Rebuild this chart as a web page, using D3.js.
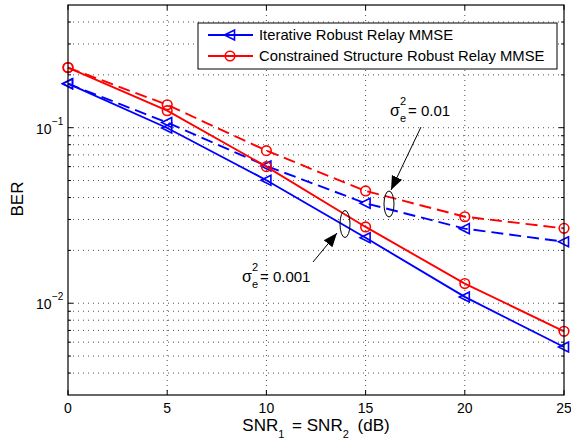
<!DOCTYPE html>
<html><head><meta charset="utf-8">
<script src="https://cdn.jsdelivr.net/npm/d3@7"></script>
<style>body{margin:0;background:#fff}svg{font-family:"Liberation Sans",Arial,sans-serif}</style>
</head><body>
<svg id="c" width="571" height="447"></svg>
<script>
const snr = [0, 5, 10, 15, 20, 25];
const iterLow = [0.178, 0.0996, 0.0502, 0.0236, 0.01086, 0.00563];   // sigma^2=0.001 solid blue
const iterHigh = [0.178, 0.107, 0.0605, 0.0371, 0.0266, 0.0224];     // sigma^2=0.01 dashed blue
const consLow = [0.22, 0.125, 0.060, 0.0272, 0.01294, 0.00692];      // solid red
const consHigh = [0.22, 0.135, 0.074, 0.0436, 0.0311, 0.0267];       // dashed red
const xTicks = [0, 5, 10, 15, 20, 25];
const yMajor = [0.01, 0.1];
const yMinor = [0.004,0.005,0.006,0.007,0.008,0.009,0.02,0.03,0.04,0.05,0.06,0.07,0.08,0.09,0.2,0.3,0.4];
const legendLabels = ["Iterative Robust Relay MMSE", "Constrained Structure Robust Relay MMSE"];

const svg = d3.select("#c");
const L = 68, R = 564, T = 5, B = 395;
const x = d3.scaleLinear().domain([0, 25]).range([L, R]);
const y = d3.scaleLog().domain([0.003, 0.5]).range([B, T]);

// grid
const g = svg.append("g");
g.selectAll(".gx").data(xTicks.slice(1, -1)).enter().append("line")
  .attr("x1", d => x(d)).attr("x2", d => x(d)).attr("y1", T).attr("y2", B)
  .attr("stroke", "#222").attr("stroke-width", 0.8).attr("stroke-dasharray", "1,4");
g.selectAll(".gy").data(yMajor.concat(yMinor)).enter().append("line")
  .attr("x1", L).attr("x2", R).attr("y1", d => y(d)).attr("y2", d => y(d))
  .attr("stroke", "#222").attr("stroke-width", 0.8).attr("stroke-dasharray", "1,4");

// ticks inside
const tk = svg.append("g").attr("stroke", "#000").attr("stroke-width", 1);
xTicks.forEach(v => {
  tk.append("line").attr("x1", x(v)).attr("x2", x(v)).attr("y1", B).attr("y2", B - 5);
  tk.append("line").attr("x1", x(v)).attr("x2", x(v)).attr("y1", T).attr("y2", T + 5);
});
yMajor.forEach(v => {
  tk.append("line").attr("x1", L).attr("x2", L + 5).attr("y1", y(v)).attr("y2", y(v));
  tk.append("line").attr("x1", R).attr("x2", R - 5).attr("y1", y(v)).attr("y2", y(v));
});
yMinor.forEach(v => {
  tk.append("line").attr("x1", L).attr("x2", L + 3).attr("y1", y(v)).attr("y2", y(v));
  tk.append("line").attr("x1", R).attr("x2", R - 3).attr("y1", y(v)).attr("y2", y(v));
});

// series
const line = d3.line().x((d, i) => x(snr[i])).y(d => y(d));
const series = [
  {v: iterHigh, c: "#0000ff", dash: "12,6", m: "tri"},
  {v: consHigh, c: "#ff0000", dash: "12,6", m: "circ"},
  {v: iterLow, c: "#0000ff", dash: null, m: "tri"},
  {v: consLow, c: "#ff0000", dash: null, m: "circ"}
];
const triPath = "M-5.5,0L4.5,-5L4.5,5Z";
function marker(sel, type, c) {
  if (type === "tri") sel.append("path").attr("d", triPath).attr("fill", "none").attr("stroke", c).attr("stroke-width", 1.6);
  else sel.append("circle").attr("r", 4.8).attr("fill", "none").attr("stroke", c).attr("stroke-width", 1.6);
}
series.forEach(s => {
  svg.append("path").attr("d", line(s.v)).attr("fill", "none").attr("stroke", s.c)
    .attr("stroke-width", 1.9).attr("stroke-dasharray", s.dash);
  s.v.forEach((d, i) => {
    const m = svg.append("g").attr("transform", `translate(${x(snr[i])},${y(d)})`);
    marker(m, s.m, s.c);
  });
});

// frame
svg.append("rect").attr("x", L).attr("y", T).attr("width", R - L).attr("height", B - T)
  .attr("fill", "none").attr("stroke", "#000").attr("stroke-width", 1.2);

// tick labels
xTicks.forEach(v => {
  svg.append("text").attr("x", x(v)).attr("y", 413).attr("text-anchor", "middle")
    .attr("font-size", 14).text(v);
});
[[0.1, "\u22121"], [0.01, "\u22122"]].forEach(([v, e]) => {
  svg.append("text").attr("x", 36).attr("y", y(v) + 6).attr("font-size", 14).text("10");
  svg.append("text").attr("x", 52).attr("y", y(v) - 3).attr("font-size", 10).text(e);
});

// axis labels
const xl = svg.append("text").attr("x", 316).attr("y", 431).attr("font-size", 17).attr("text-anchor", "middle");
xl.append("tspan").text("SNR");
xl.append("tspan").attr("font-size", 11).attr("dy", 7).text("1");
xl.append("tspan").attr("dy", -7).attr("dx", 3).text(" = SNR");
xl.append("tspan").attr("font-size", 11).attr("dy", 7).text("2");
xl.append("tspan").attr("dy", -7).attr("dx", 4).text(" (dB)");
svg.append("text").attr("transform", "translate(23,199) rotate(-90)").attr("text-anchor", "middle")
  .attr("font-size", 17).text("BER");

// legend
const lg = svg.append("g");
lg.append("rect").attr("x", 198).attr("y", 23).attr("width", 359).attr("height", 46)
  .attr("fill", "#fff").attr("stroke", "#000").attr("stroke-width", 1);
[["#0000ff", "tri"], ["#ff0000", "circ"]].forEach(([c, m], i) => {
  const yy = 35 + i * 21;
  lg.append("line").attr("x1", 208).attr("x2", 253).attr("y1", yy).attr("y2", yy).attr("stroke", c).attr("stroke-width", 1.9);
  marker(lg.append("g").attr("transform", `translate(230,${yy})`), m, c);
  lg.append("text").attr("x", 259).attr("y", yy + 5).attr("font-size", 14.8).text(legendLabels[i]);
});

// annotations
svg.append("defs").append("marker").attr("id", "ah").attr("viewBox", "0 0 10 10")
  .attr("refX", 10).attr("refY", 5).attr("markerWidth", 14).attr("markerHeight", 14)
  .attr("markerUnits", "userSpaceOnUse").attr("orient", "auto")
  .append("path").attr("d", "M0,1L10,5L0,9Z").attr("fill", "#000");
function sigma(xs, yb, val) {
  svg.append("text").attr("x", xs).attr("y", yb).attr("font-size", 16).text("\u03c3");
  svg.append("text").attr("x", xs + 10).attr("y", yb - 11).attr("font-size", 11).text("2");
  svg.append("text").attr("x", xs + 10).attr("y", yb + 6).attr("font-size", 11).text("e");
  svg.append("text").attr("x", xs + 18).attr("y", yb).attr("font-size", 15).text("= " + val);
}
sigma(390, 116, "0.01");
sigma(242, 282, "0.001");
svg.append("line").attr("x1", 421).attr("y1", 127).attr("x2", 391).attr("y2", 190)
  .attr("stroke", "#000").attr("stroke-width", 1).attr("marker-end", "url(#ah)");
svg.append("line").attr("x1", 313).attr("y1", 262).attr("x2", 337).attr("y2", 233)
  .attr("stroke", "#000").attr("stroke-width", 1).attr("marker-end", "url(#ah)");
svg.append("ellipse").attr("cx", 389).attr("cy", 204).attr("rx", 5).attr("ry", 13)
  .attr("fill", "none").attr("stroke", "#000").attr("stroke-width", 1);
svg.append("ellipse").attr("cx", 345).attr("cy", 224).attr("rx", 5).attr("ry", 13.5)
  .attr("fill", "none").attr("stroke", "#000").attr("stroke-width", 1);
</script>
</body></html>
